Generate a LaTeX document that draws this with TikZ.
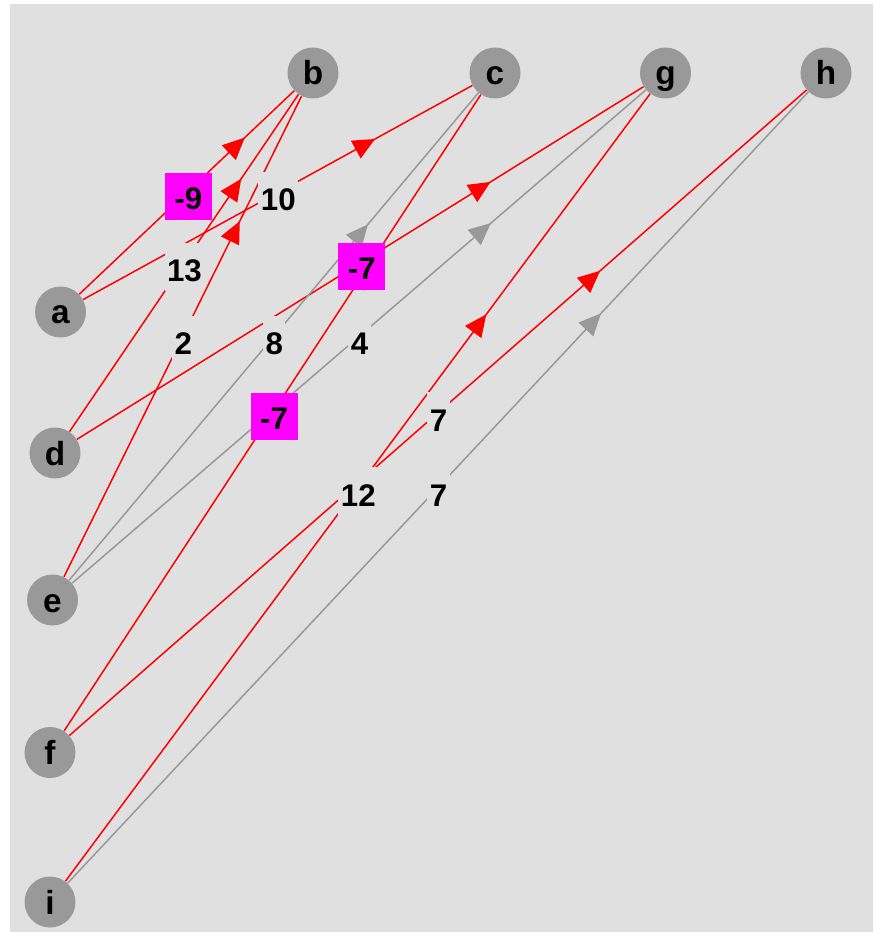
\documentclass[tikz,border=0pt]{standalone}
\usepackage{fontspec}
\setmainfont{Liberation Sans}
\usetikzlibrary{arrows.meta,calc,decorations.markings}
\definecolor{canvas}{HTML}{E0E0E0}
\definecolor{knot}{HTML}{999999}
\definecolor{hot}{HTML}{FF00FF}
\tikzset{
	vertex/.style={circle,fill=knot,minimum size=1.02cm,inner sep=0pt,text height=0.48cm,text depth=0cm,font=\fontsize{19}{19}\selectfont\bfseries},
	cost/.style={fill=canvas,minimum height=0.98cm,inner xsep=0.05cm,inner ysep=0pt,text height=0.58cm,text depth=0cm,font=\fontsize{17.8}{18}\selectfont\bfseries},
	negcost/.style={cost,fill=hot,minimum width=0.94cm,minimum height=0.94cm,text height=0.52cm},
	flowarc/.style={red,line width=0.03cm,postaction={decorate},decoration={markings,mark=at position #1 with {\arrow{Triangle[length=0.44cm,width=0.4cm]}}}},
	idlearc/.style={flowarc=#1,knot},
}

\begin{document}
\begin{tikzpicture}[x=0.02cm,y=-0.02cm]
	\useasboundingbox (0,0) rectangle (873,932);
	\fill[canvas] (10,4) rectangle (873,932);
	\node[vertex] (a) at (60.5,312) {a};
	\node[vertex] (b) at (313,73) {b};
	\node[vertex] (c) at (495,73) {c};
	\node[vertex] (g) at (665.5,73) {g};
	\node[vertex] (h) at (826,73) {h};
	\node[vertex] (d) at (55,453) {d};
	\node[vertex] (e) at (52.5,600) {e};
	\node[vertex] (f) at (50,752.5) {f};
	\node[vertex] (i) at (50,902) {i};
	\draw[flowarc=0.77] (a) -- (b);
	\draw[flowarc=0.75] (a) -- (c);
	\draw[flowarc=0.75] (d) -- (b);
	\draw[flowarc=0.74] (e) -- (b);
	\draw[flowarc=0.73] (d) -- (g);
	\draw[flowarc=0.73] (f) -- (c);
	\draw[idlearc=0.73] (e) -- (c);
	\draw[idlearc=0.73] (e) -- (g);
	\draw[flowarc=0.72] (i) -- (g);
	\draw[flowarc=0.72] (f) -- (h);
	\draw[idlearc=0.72] (i) -- (h);
	\node[cost] (ac) at ($(a)!0.5!(c)+(0.5,4)$) {10};
	\node[cost] (db) at ($(d)!0.5!(b)+(0.5,4)$) {13};
	\node[cost] (eb) at ($(e)!0.5!(b)+(0.5,4)$) {2};
	\node[cost] (ec) at ($(e)!0.5!(c)+(0.5,4)$) {8};
	\node[cost] (eg) at ($(e)!0.5!(g)+(0.5,4)$) {4};
	\node[cost] (ig) at ($(i)!0.5!(g)+(0.5,4)$) {12};
	\node[cost] (fh) at ($(f)!0.5!(h)+(0.5,4)$) {7};
	\node[cost] (ih) at ($(i)!0.5!(h)+(0.5,4)$) {7};
	\node[negcost] (ab) at ($(a)!0.5!(b)+(1.5,4)$) {-9};
	\node[negcost] (dg) at ($(d)!0.5!(g)+(1.5,3.5)$) {-7};
	\node[negcost] (fc) at ($(f)!0.5!(c)+(1.5,3.5)$) {-7};
\end{tikzpicture}
\end{document}
